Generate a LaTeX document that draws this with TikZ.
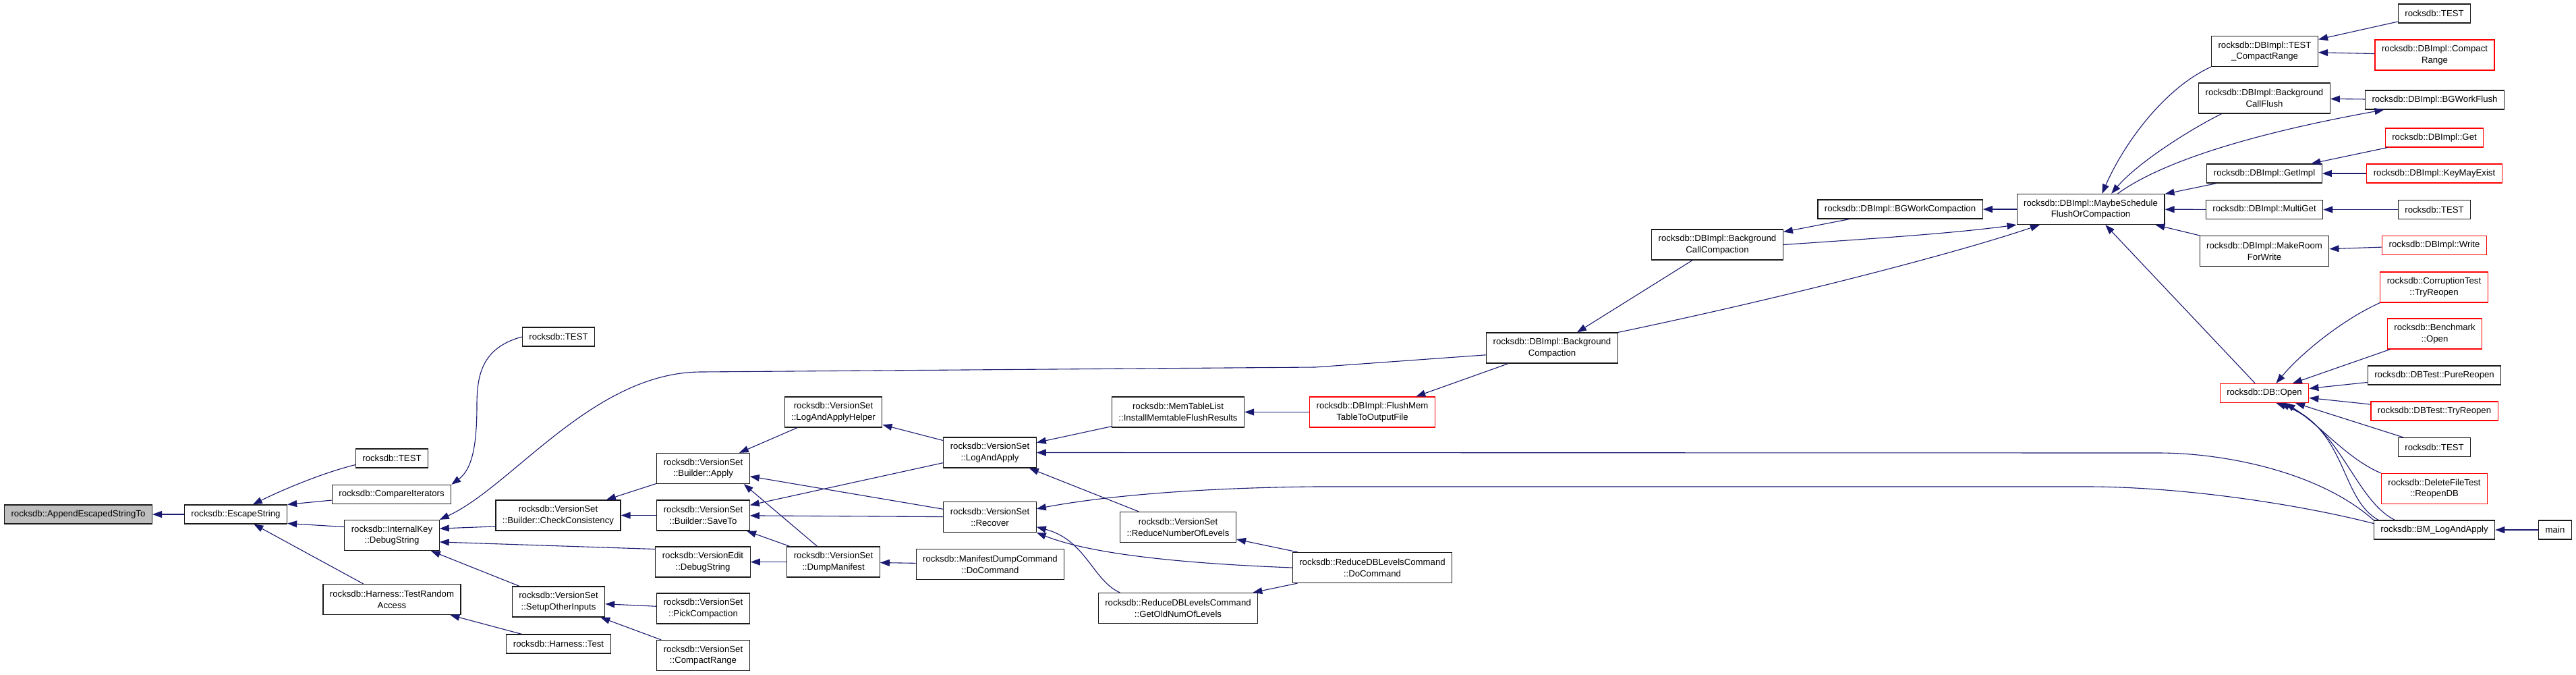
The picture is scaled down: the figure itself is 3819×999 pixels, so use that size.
\documentclass[tikz,border=0pt]{standalone}
\usepackage{fontspec}
\setmainfont{Liberation Sans}
\usetikzlibrary{arrows.meta}
\definecolor{EdgeBlue}{HTML}{191970}
\definecolor{RootGrey}{HTML}{BFBFBF}
\definecolor{TruncRed}{HTML}{FF0000}
\definecolor{BoxInk}{HTML}{1A1A1A}

\begin{document}
\begin{tikzpicture}[x=1pt,y=-1pt,
  fn/.style={draw=BoxInk,line width=1.2pt,fill=white,font=\fontsize{13.2}{16.7}\selectfont,
    inner xsep=10pt,inner ysep=2pt,minimum height=28pt,align=center},
  fn2/.style={fn,minimum height=45pt},
  root/.style={fn,fill=RootGrey},
  truncd/.style={draw=TruncRed},
  call/.style={draw=EdgeBlue,line width=1.1pt,-{Triangle[length=14pt,width=10pt]}}]
  \useasboundingbox (0,0) rectangle (3819,999);

  % callees on the left, callers to the right
  \node[root] (append) at (116,762) {rocksdb::AppendEscapedStringTo};
  \node[fn] (esc) at (349.5,762) {rocksdb::EscapeString};
  \node[fn] (testa) at (581,679) {rocksdb::TEST};
  \node[fn] (cmpit) at (580.5,732.5) {rocksdb::CompareIterators};
  \node[fn2] (ikey) at (581,793) {rocksdb::InternalKey\\::DebugString};
  \node[fn2] (tra) at (581,888) {rocksdb::Harness::TestRandom\\Access};
  \node[fn] (testb) at (828,499) {rocksdb::TEST};
  \node[fn2] (chk) at (827.5,763.5) {rocksdb::VersionSet\\::Builder::CheckConsistency};
  \node[fn2] (setup) at (828,891.5) {rocksdb::VersionSet\\::SetupOtherInputs};
  \node[fn] (htest) at (828,954) {rocksdb::Harness::Test};
  \node[fn2] (apply) at (1042.5,694) {rocksdb::VersionSet\\::Builder::Apply};
  \node[fn2] (saveto) at (1042.5,763.5) {rocksdb::VersionSet\\::Builder::SaveTo};
  \node[fn2] (vedit) at (1042,832.5) {rocksdb::VersionEdit\\::DebugString};
  \node[fn2] (pick) at (1042.5,901.5) {rocksdb::VersionSet\\::PickCompaction};
  \node[fn2] (vcrange) at (1042.5,971) {rocksdb::VersionSet\\::CompactRange};
  \node[fn2] (helper) at (1235.5,610.5) {rocksdb::VersionSet\\::LogAndApplyHelper};
  \node[fn2] (dump) at (1235.5,832.5) {rocksdb::VersionSet\\::DumpManifest};
  \node[fn2] (logapply) at (1467.5,670.5) {rocksdb::VersionSet\\::LogAndApply};
  \node[fn2] (recover) at (1467.5,766) {rocksdb::VersionSet\\::Recover};
  \node[fn2] (mdump) at (1468,836) {rocksdb::ManifestDumpCommand\\::DoCommand};
  \node[fn2] (install) at (1746.5,610.5) {rocksdb::MemTableList\\::InstallMemtableFlushResults};
  \node[fn2] (rnl) at (1746.5,781) {rocksdb::VersionSet\\::ReduceNumberOfLevels};
  \node[fn2] (getold) at (1746.5,901) {rocksdb::ReduceDBLevelsCommand\\::GetOldNumOfLevels};
  \node[fn2,truncd] (flush) at (2034.5,610.5) {rocksdb::DBImpl::FlushMem\\TableToOutputFile};
  \node[fn2] (rdocmd) at (2034.5,841) {rocksdb::ReduceDBLevelsCommand\\::DoCommand};
  \node[fn2] (bgc) at (2301,515.5) {rocksdb::DBImpl::Background\\Compaction};
  \node[fn2] (bgcc) at (2546,362.5) {rocksdb::DBImpl::Background\\CallCompaction};
  \node[fn] (bgwc) at (2817,310) {rocksdb::DBImpl::BGWorkCompaction};
  \node[fn2] (msfc) at (3099.5,310) {rocksdb::DBImpl::MaybeSchedule\\FlushOrCompaction};
  \node[fn2] (tcr) at (3357.5,76) {rocksdb::DBImpl::TEST\\\_CompactRange};
  \node[fn2] (bgcf) at (3357,145.5) {rocksdb::DBImpl::Background\\CallFlush};
  \node[fn] (getimpl) at (3357,257) {rocksdb::DBImpl::GetImpl};
  \node[fn] (multiget) at (3357,310.5) {rocksdb::DBImpl::MultiGet};
  \node[fn2] (mkroom) at (3357,372) {rocksdb::DBImpl::MakeRoom\\ForWrite};
  \node[fn,truncd] (open) at (3357,582.5) {rocksdb::DB::Open};
  \node[fn] (testc) at (3609,20) {rocksdb::TEST};
  \node[fn2,truncd] (dbcrange) at (3609.5,81.5) {rocksdb::DBImpl::Compact\\Range};
  \node[fn] (bgwf) at (3609.5,148) {rocksdb::DBImpl::BGWorkFlush};
  \node[fn,truncd] (get) at (3609,204) {rocksdb::DBImpl::Get};
  \node[fn,truncd] (keymay) at (3609,257) {rocksdb::DBImpl::KeyMayExist};
  \node[fn] (testd) at (3609,310.5) {rocksdb::TEST};
  \node[fn,truncd] (write) at (3609,363.5) {rocksdb::DBImpl::Write};
  \node[fn2,truncd] (corrupt) at (3608.5,425.5) {rocksdb::CorruptionTest\\::TryReopen};
  \node[fn2,truncd] (bench) at (3609.5,494.5) {rocksdb::Benchmark\\::Open};
  \node[fn] (pure) at (3609,556) {rocksdb::DBTest::PureReopen};
  \node[fn,truncd] (tryre) at (3609,609) {rocksdb::DBTest::TryReopen};
  \node[fn] (teste) at (3609,662.5) {rocksdb::TEST};
  \node[fn2,truncd] (delf) at (3609,724) {rocksdb::DeleteFileTest\\::ReopenDB};
  \node[fn] (bm) at (3609,785) {rocksdb::BM\_LogAndApply};
  \node[fn] (main) at (3788,785) {main};

  % calls
  \draw[call] (esc) -- (append);
  \draw[call] (testa.190) .. controls (480,700) and (420,725) .. (esc.30);
  \draw[call] (cmpit) -- (esc.north east);
  \draw[call] (ikey.170) -- (esc.-10);
  \draw[call] (tra) -- (esc);
  \draw[call] (testb.west) .. controls (715,515) and (707,555) .. (707,600)
    .. controls (707,660) and (700,695) .. (cmpit.north east);
  \draw[call] (bgc.186) -- (1950,544) -- (1040,551) .. controls (880,551) and (760,720) .. (ikey.north east);
  \draw[call] (chk.190) -- (ikey.8);
  \draw[call] (vedit.165) -- (ikey.-8);
  \draw[call] (setup) -- (ikey);
  \draw[call] (htest) -- (tra);
  \draw[call] (apply) -- (chk);
  \draw[call] (saveto) -- (chk);
  \draw[call] (pick) -- (setup);
  \draw[call] (vcrange) -- (setup);
  \draw[call] (helper) -- (apply);
  \draw[call] (recover) -- (apply);
  \draw[call] (dump.136) -- (apply.-21);
  \draw[call] (logapply) -- (saveto);
  \draw[call] (recover) -- (saveto);
  \draw[call] (dump) -- (saveto);
  \draw[call] (dump) -- (vedit);
  \draw[call] (logapply) -- (helper);
  \draw[call] (mdump) -- (dump);
  \draw[call] (install) -- (logapply);
  \draw[call] (rnl) -- (logapply);
  \draw[call] (rdocmd) -- (rnl);
  \draw[call] (rdocmd) -- (getold);
  \draw[call] (rdocmd.west) .. controls (1760,835) and (1620,822) .. (recover.south east);
  \draw[call] (getold.165) .. controls (1620,860) and (1610,800) .. (recover.-12);
  \draw[call] (flush) -- (install);
  \draw[call] (bgc) -- (flush);
  \draw[call] (bgcc) -- (bgc);
  \draw[call] (bgwc) -- (bgcc);
  \draw[call] (msfc) -- (bgwc);
  \draw[call] (bgcc.east) .. controls (2800,352) and (2900,345) .. (msfc.south west);
  \draw[call] (bgc.north east) .. controls (2650,440) and (2900,375) .. (msfc.-163);
  \draw[call] (tcr.south west) .. controls (3210,130) and (3150,210) .. (msfc.54);
  \draw[call] (bgcf.-160) .. controls (3250,190) and (3170,240) .. (msfc.37);
  \draw[call] (msfc.30) .. controls (3190,250) and (3300,205) .. (bgwf.-169);
  \draw[call] (getimpl) -- (msfc);
  \draw[call] (multiget) -- (msfc);
  \draw[call] (mkroom) -- (msfc);
  \draw[call] (open) -- (msfc);
  \draw[call] (testc) -- (tcr);
  \draw[call] (dbcrange) -- (tcr);
  \draw[call] (bgwf) -- (bgcf);
  \draw[call] (get) -- (getimpl);
  \draw[call] (keymay) -- (getimpl);
  \draw[call] (testd) -- (multiget);
  \draw[call] (write) -- (mkroom);
  \draw[call] (corrupt.south west) .. controls (3470,475) and (3410,525) .. (open.40);
  \draw[call] (bench) -- (open);
  \draw[call] (pure) -- (open);
  \draw[call] (tryre) -- (open);
  \draw[call] (teste) -- (open);
  \draw[call] (delf.north west) .. controls (3480,680) and (3440,630) .. (open.-25);
  \draw[call] (bm.170) .. controls (3470,740) and (3480,640) .. (open.-32);
  \draw[call] (bm.166) .. controls (3490,740) and (3470,630) .. (open.-40);
  \draw[call] (bm.north west) .. controls (3440,700) and (3300,671) .. (3200,671) -- (logapply.east);
  \draw[call] (bm.174) .. controls (3420,750) and (3250,722) .. (3100,721) -- (1950,721)
    .. controls (1750,723) and (1620,738) .. (recover.10);
  \draw[call] (main) -- (bm);
\end{tikzpicture}
\end{document}
